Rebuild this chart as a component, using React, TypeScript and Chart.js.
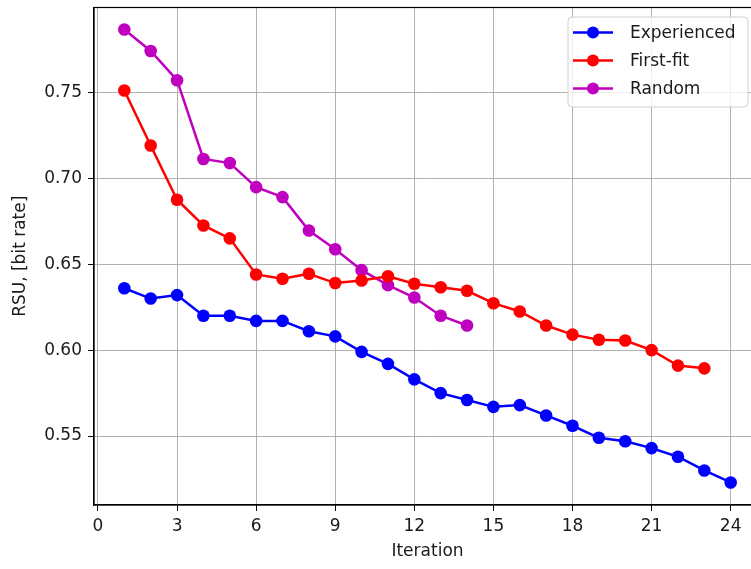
import React, { useEffect, useRef } from "react";
import { Chart, registerables } from "chart.js";

Chart.register(...registerables);

const iterations = [1, 2, 3, 4, 5, 6, 7, 8, 9, 10, 11, 12, 13, 14, 15, 16, 17, 18, 19, 20, 21, 22, 23, 24];
const experienced = [0.636, 0.630, 0.632, 0.620, 0.620, 0.617, 0.617, 0.611, 0.608, 0.599, 0.592, 0.583, 0.575, 0.571, 0.567, 0.568, 0.562, 0.556, 0.549, 0.547, 0.543, 0.538, 0.530, 0.523];
const firstFit = [0.751, 0.719, 0.6875, 0.6725, 0.665, 0.644, 0.6415, 0.6444, 0.639, 0.6405, 0.643, 0.6386, 0.6366, 0.6345, 0.6273, 0.6225, 0.6143, 0.609, 0.606, 0.6056, 0.600, 0.591, 0.5894];
const randomFit = [0.7865, 0.774, 0.757, 0.7112, 0.7088, 0.6948, 0.689, 0.6696, 0.6587, 0.6465, 0.6378, 0.6306, 0.620, 0.6143];

const seriesNames = ["Experienced", "First-fit", "Random"];
const seriesColors = ["#0000ff", "#ff0000", "#bf00bf"];
const xTickValues = [0, 3, 6, 9, 12, 15, 18, 21, 24];
const yTickValues = [0.55, 0.6, 0.65, 0.7, 0.75];
const xRange = [-0.15, 25.15];
const yRange = [0.5099, 0.7993];

const FONT = "'DejaVu Sans', sans-serif";
const TEXT = "#1a1a1a";

const toPoints = (vals: number[]) => vals.map((v, i) => ({ x: iterations[i], y: v }));

const framePlugin = {
  id: "frame",
  afterDatasetsDraw(chart: any) {
    const { ctx, chartArea } = chart;
    ctx.save();
    ctx.strokeStyle = "#000";
    ctx.lineWidth = 1.2;
    ctx.strokeRect(chartArea.left, chartArea.top, chartArea.right - chartArea.left, chartArea.bottom - chartArea.top);
    ctx.restore();
  },
};

const legendPlugin = {
  id: "mplLegend",
  afterDraw(chart: any) {
    const { ctx, chartArea } = chart;
    const w = 180;
    const h = 90;
    const right = chartArea.right - 13;
    const left = right - w;
    const top = chartArea.top + 9.5;
    const r = 4;
    ctx.save();
    ctx.beginPath();
    ctx.moveTo(left + r, top);
    ctx.lineTo(left + w - r, top);
    ctx.arcTo(left + w, top, left + w, top + r, r);
    ctx.lineTo(left + w, top + h - r);
    ctx.arcTo(left + w, top + h, left + w - r, top + h, r);
    ctx.lineTo(left + r, top + h);
    ctx.arcTo(left, top + h, left, top + h - r, r);
    ctx.lineTo(left, top + r);
    ctx.arcTo(left, top, left + r, top, r);
    ctx.closePath();
    ctx.fillStyle = "rgba(255,255,255,0.8)";
    ctx.fill();
    ctx.strokeStyle = "#d0d0d0";
    ctx.lineWidth = 1;
    ctx.stroke();
    chart.data.datasets.forEach((ds: any, i: number) => {
      const y = top + 15.5 + i * 28;
      ctx.strokeStyle = ds.borderColor;
      ctx.lineWidth = 2.5;
      ctx.beginPath();
      ctx.moveTo(left + 5, y);
      ctx.lineTo(left + 45, y);
      ctx.stroke();
      ctx.fillStyle = ds.borderColor;
      ctx.beginPath();
      ctx.arc(left + 25, y, 6, 0, Math.PI * 2);
      ctx.fill();
      ctx.fillStyle = TEXT;
      ctx.font = `17px ${FONT}`;
      ctx.textBaseline = "middle";
      ctx.textAlign = "left";
      ctx.fillText(ds.label, left + 62, y + 1);
    });
    ctx.restore();
  },
};

export default function App() {
  const ref = useRef<HTMLCanvasElement | null>(null);
  useEffect(() => {
    if (!ref.current) return;
    const allSeries = [experienced, firstFit, randomFit];
    const chart = new Chart(ref.current, {
      type: "line",
      data: {
        datasets: allSeries.map((vals, i) => ({
          label: seriesNames[i],
          data: toPoints(vals),
          borderColor: seriesColors[i],
          backgroundColor: seriesColors[i],
          pointBackgroundColor: seriesColors[i],
          pointBorderWidth: 0,
          pointRadius: 6.3,
          borderWidth: 2.5,
          tension: 0,
          clip: false as any,
        })),
      },
      options: {
        responsive: false,
        animation: false,
        devicePixelRatio: 1,
        layout: { padding: { left: 0, top: 7.5, right: 19, bottom: 0 } },
        plugins: { legend: { display: false }, tooltip: { enabled: false }, title: { display: false } },
        scales: {
          x: {
            type: "linear",
            min: xRange[0],
            max: xRange[1],
            afterFit: (s: any) => { s.height = 64; s.paddingLeft = 0; s.paddingRight = 0; },
            afterBuildTicks: (s: any) => { s.ticks = xTickValues.map((v) => ({ value: v })); },
            grid: { color: "#b0b0b0", lineWidth: 1, tickColor: "#000", tickLength: 6, drawTicks: true },
            border: { display: true, color: "#000", width: 1.2 },
            ticks: {
              color: TEXT,
              font: { family: FONT, size: 17 },
              padding: 5,
              maxRotation: 0,
              autoSkip: false,
              callback: (v: any) => String(v),
            },
            title: { display: true, text: "Iteration", color: TEXT, font: { family: FONT, size: 17 }, padding: { top: 0, bottom: 7 } },
          },
          y: {
            type: "linear",
            min: yRange[0],
            max: yRange[1],
            afterFit: (s: any) => { s.width = 94; s.paddingTop = 0; s.paddingBottom = 0; },
            afterBuildTicks: (s: any) => { s.ticks = yTickValues.map((v) => ({ value: v })); },
            grid: { color: "#b0b0b0", lineWidth: 1, tickColor: "#000", tickLength: 6, drawTicks: true },
            border: { display: true, color: "#000", width: 1.2 },
            ticks: {
              color: TEXT,
              font: { family: FONT, size: 17 },
              padding: 6,
              autoSkip: false,
              callback: (v: any) => Number(v).toFixed(2),
            },
            title: { display: true, text: "RSU, [bit rate]", color: TEXT, font: { family: FONT, size: 17 }, padding: { top: 10, bottom: 0 } },
          },
        },
      },
      plugins: [framePlugin, legendPlugin],
    });
    return () => chart.destroy();
  }, []);
  return (
    <div style={{ position: "fixed", left: 0, top: 0, width: 751, height: 569, overflow: "hidden", background: "#fff" }}>
      <canvas ref={ref} width={780} height={569} style={{ display: "block", width: 780, height: 569 }} />
    </div>
  );
}
